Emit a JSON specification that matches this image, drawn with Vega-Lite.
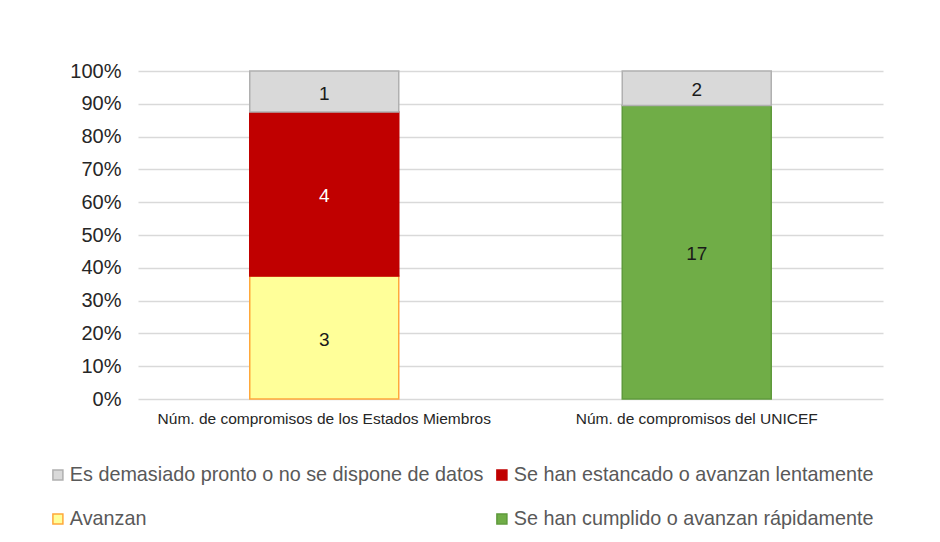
{
  "$schema": "https://vega.github.io/schema/vega-lite/v6.json",
  "width": 745,
  "height": 328,
  "autosize": {"type": "none"},
  "padding": {"left": 138, "top": 71, "right": 57, "bottom": 143},
  "background": "white",
  "config": {"view": {"stroke": null}},
  "title": {
    "text": "propuestas)",
    "anchor": "start",
    "frame": "group",
    "font": "Liberation Serif",
    "fontSize": 28,
    "fontWeight": "bold",
    "color": "#000000",
    "baseline": "alphabetic",
    "offset": 40,
    "dx": -131
  },
  "data": {
    "values": [
      {"grupo": "Núm. de compromisos de los Estados Miembros", "estado": "Avanzan", "n": 3, "orden": 1},
      {"grupo": "Núm. de compromisos de los Estados Miembros", "estado": "Se han estancado o avanzan lentamente", "n": 4, "orden": 2},
      {"grupo": "Núm. de compromisos de los Estados Miembros", "estado": "Es demasiado pronto o no se dispone de datos", "n": 1, "orden": 4},
      {"grupo": "Núm. de compromisos del UNICEF", "estado": "Se han cumplido o avanzan rápidamente", "n": 17, "orden": 3},
      {"grupo": "Núm. de compromisos del UNICEF", "estado": "Es demasiado pronto o no se dispone de datos", "n": 2, "orden": 4}
    ]
  },
  "transform": [
    {"stack": "n", "groupby": ["grupo"], "sort": [{"field": "orden", "order": "ascending"}], "offset": "normalize", "as": ["y0", "y1"]},
    {"calculate": "(datum.y0 + datum.y1) / 2", "as": "ym"}
  ],
  "encoding": {
    "x": {
      "field": "grupo",
      "type": "nominal",
      "sort": null,
      "title": null,
      "scale": {"paddingInner": 0.6, "paddingOuter": 0.3},
      "axis": {"labelAngle": 0, "ticks": false, "domain": false, "labelPadding": 12, "labelFont": "Liberation Sans", "labelFontSize": 15.5, "labelColor": "#262626", "labelLimit": 400}
    }
  },
  "layer": [
    {
      "mark": {"type": "bar", "strokeWidth": 1.5},
      "encoding": {
        "y": {
          "field": "y0",
          "type": "quantitative",
          "scale": {"domain": [0, 1]},
          "title": null,
          "axis": {"values": [0, 0.1, 0.2, 0.3, 0.4, 0.5, 0.6, 0.7, 0.8, 0.9, 1], "labelOverlap": false, "format": ".0%", "ticks": false, "domain": false, "labelPadding": 17, "labelFont": "Liberation Sans", "labelFontSize": 20, "labelColor": "#262626", "gridColor": "#d9d9d9", "gridWidth": 1.5}
        },
        "y2": {"field": "y1"},
        "fill": {
          "field": "estado",
          "type": "nominal",
          "title": null,
          "scale": {
            "domain": ["Es demasiado pronto o no se dispone de datos", "Avanzan", "Se han estancado o avanzan lentamente", "Se han cumplido o avanzan rápidamente"],
            "range": ["#d9d9d9", "#ffff99", "#c00000", "#70ad47"]
          },
          "legend": {
            "orient": "none",
            "legendX": -90,
            "legendY": 394,
            "columns": 2,
            "columnPadding": 8,
            "rowPadding": 23,
            "symbolType": "square",
            "symbolSize": 100,
            "symbolStrokeWidth": 1.5,
            "labelFont": "Liberation Sans",
            "labelFontSize": 19.8,
            "labelColor": "#595959",
            "labelOffset": 2,
            "labelLimit": 500
          }
        },
        "stroke": {
          "field": "estado",
          "type": "nominal",
          "title": null,
          "scale": {
            "domain": ["Es demasiado pronto o no se dispone de datos", "Avanzan", "Se han estancado o avanzan lentamente", "Se han cumplido o avanzan rápidamente"],
            "range": ["#b0b0b0", "#ffa83a", "#c00000", "#5f9a3c"]
          }
        }
      }
    },
    {
      "mark": {"type": "text", "font": "Liberation Sans", "fontSize": 19, "dy": 2},
      "encoding": {
        "y": {
          "field": "ym",
          "type": "quantitative",
          "scale": {"domain": [0, 1]},
          "title": null,
          "axis": {"values": [0, 0.1, 0.2, 0.3, 0.4, 0.5, 0.6, 0.7, 0.8, 0.9, 1], "labelOverlap": false, "format": ".0%", "ticks": false, "domain": false, "labelPadding": 17, "labelFont": "Liberation Sans", "labelFontSize": 20, "labelColor": "#262626", "gridColor": "#d9d9d9", "gridWidth": 1.5}
        },
        "text": {"field": "n", "type": "quantitative"},
        "color": {
          "condition": {"test": "datum.estado === 'Se han estancado o avanzan lentamente'", "value": "#ffffff"},
          "value": "#1a1a1a"
        }
      }
    }
  ]
}
